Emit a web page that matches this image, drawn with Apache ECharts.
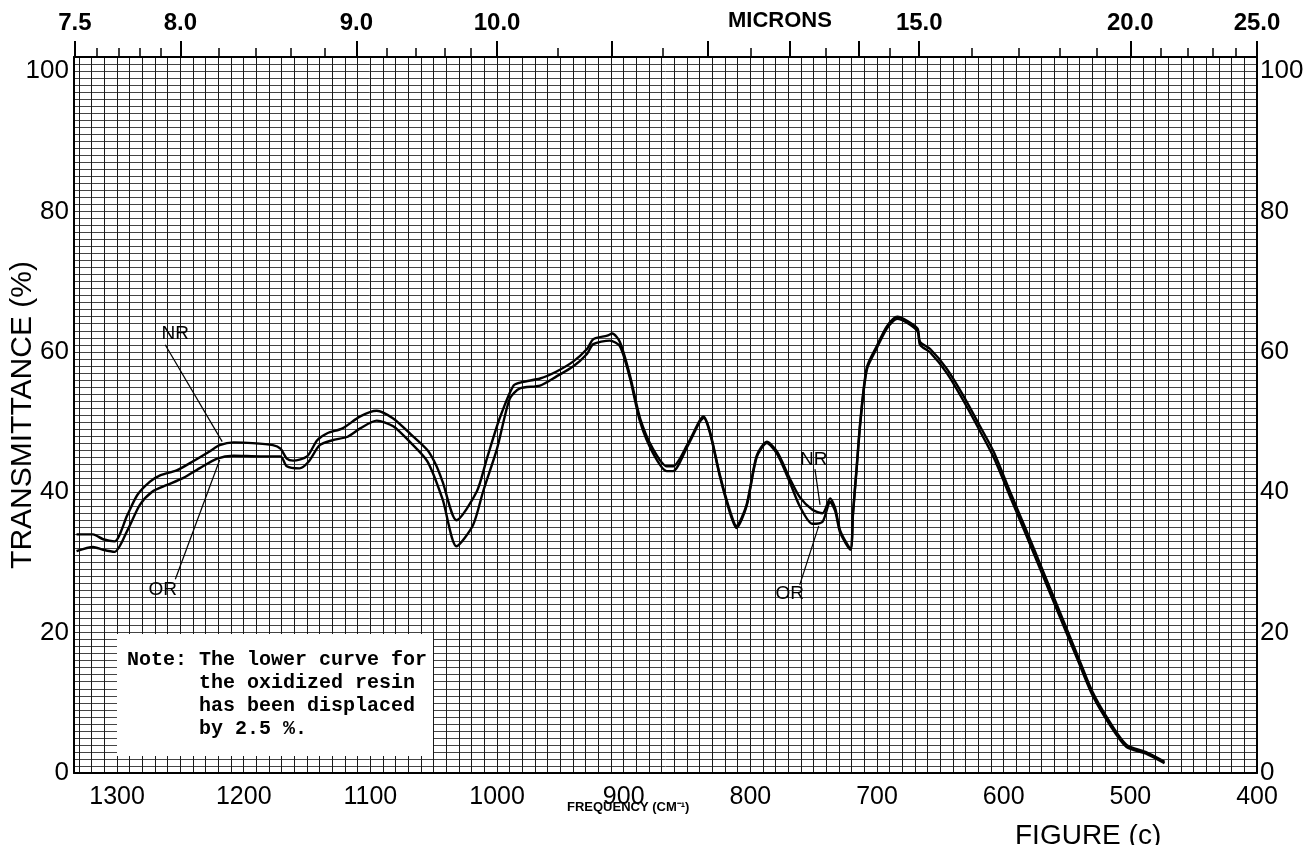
<!DOCTYPE html>
<html>
<head>
<meta charset="utf-8">
<script src="https://cdn.jsdelivr.net/npm/echarts@6.0.0/dist/echarts.min.js"></script>
<style>
  html, body { margin: 0; padding: 0; background: #fff; }
  #spectrum { width: 1309px; height: 845px; }
</style>
</head>
<body>
<div id="spectrum"></div>
<script>
// natural resin (upper curve), wavenumber cm-1 / transmittance %
const nrWave = [1332, 1319, 1311, 1302, 1292, 1284, 1274, 1266, 1253, 1240, 1227, 1219, 1208, 1193, 1177,
  1171, 1166, 1161, 1150, 1142, 1134, 1122, 1108, 1095, 1082, 1069, 1055, 1048, 1043, 1032,
  1016, 1008, 998, 987, 980, 966, 953, 940, 929, 924, 913, 909, 903, 895, 887,
  877, 866, 861, 850, 840, 837, 832, 824, 816, 811, 803, 795, 787, 779, 769,
  761, 751, 743, 737, 733, 729, 721, 719, 716, 713, 708, 700, 692, 684, 676,
  668, 666, 658, 645, 632, 619, 608, 595, 582, 569, 556, 542, 530, 516, 503, 488, 473];
const nrTrans = [34.0, 34.0, 33.3, 33.0, 36.7, 39.6, 41.5, 42.4, 43.1, 44.4, 45.8, 46.7, 47.1, 47.0, 46.7,
  46.2, 44.8, 44.5, 45.1, 47.4, 48.4, 49.1, 50.8, 51.6, 50.5, 48.4, 46.0, 43.8, 41.5, 36.0,
  40.1, 44.8, 50.5, 55.2, 55.7, 56.2, 57.2, 58.6, 60.4, 61.8, 62.3, 62.6, 61.4, 56.6, 50.5,
  46.2, 43.7, 43.7, 46.7, 50.2, 50.8, 48.7, 42.4, 37.3, 35.2, 38.2, 45.2, 47.2, 45.8, 42.0,
  39.3, 37.5, 37.0, 39.1, 37.7, 34.5, 32.0, 37.0, 43.8, 50.5, 57.8, 60.9, 63.7, 65.0, 64.4,
  63.3, 61.4, 60.4, 57.6, 53.8, 49.5, 45.8, 40.1, 34.5, 28.8, 23.1, 16.9, 11.6, 7.2, 4.0, 3.0, 1.6];

// oxidized resin (lower curve, displaced by 2.5 %)
const orWave = [1332, 1319, 1311, 1302, 1292, 1282, 1272, 1261, 1248, 1235, 1221, 1208, 1187, 1171, 1166,
  1156, 1149, 1140, 1130, 1118, 1108, 1095, 1082, 1069, 1055, 1043, 1032, 1019, 1011, 1000,
  990, 982, 966, 953, 940, 929, 924, 911, 903, 895, 887, 877, 866, 861, 850,
  840, 837, 832, 824, 816, 811, 803, 795, 787, 779, 769, 761, 751, 743, 737,
  733, 729, 721, 719, 716, 713, 708, 700, 692, 684, 676, 668, 666, 658, 645,
  632, 619, 608, 595, 582, 569, 556, 542, 530, 516, 503, 488, 473];
const orTrans = [31.6, 32.2, 31.8, 31.5, 34.5, 38.2, 40.1, 41.0, 42.0, 43.4, 44.8, 45.2, 45.1, 45.1, 43.7,
  43.4, 44.3, 46.7, 47.4, 47.9, 49.1, 50.2, 49.4, 47.2, 44.4, 39.0, 32.3, 35.3, 40.1, 46.2,
  53.3, 54.8, 55.2, 56.5, 57.9, 59.7, 61.1, 61.6, 60.8, 56.2, 50.0, 45.6, 43.0, 43.0, 46.4,
  50.0, 50.6, 48.5, 42.2, 37.0, 34.9, 38.0, 45.0, 47.0, 45.5, 41.5, 38.0, 35.5, 35.8, 38.6,
  37.3, 34.2, 31.8, 36.8, 43.5, 50.2, 57.5, 60.6, 63.4, 64.7, 64.1, 62.9, 61.0, 59.9, 57.0,
  53.1, 48.8, 45.0, 39.4, 33.8, 28.1, 22.4, 16.3, 11.1, 6.8, 3.7, 2.8, 1.4];

// axis labels
const freqLabels = [1300, 1200, 1100, 1000, 900, 800, 700, 600, 500, 400];
const transLabels = [0, 20, 40, 60, 80, 100];
const micronLabels = [7.5, 8.0, 9.0, 10.0, 15.0, 20.0, 25.0];
const micronMajorTicks = [7.5, 8, 9, 10, 11, 12, 13, 14, 15, 20, 25];
const micronMinorTicks = [7.6, 7.7, 7.8, 7.9, 8.2, 8.4, 8.6, 8.8, 9.2, 9.4, 9.6, 9.8, 10.5, 11.5,
  12.5, 13.5, 14.5, 16, 17, 18, 19, 21, 22, 23, 24];

const toWave = m => 1e4 / m;
const pairs = (xs, ys) => xs.map((x, i) => [x, ys[i]]);

const chart = echarts.init(document.getElementById('spectrum'));
const FONT = 'Liberation Sans';

const topAxisBase = {
  type: 'value', position: 'top', min: 400, max: 1334, inverse: true,
  splitLine: { show: false }
};

const option = {
  animation: false,
  backgroundColor: '#fff',
  grid: { left: 74, right: 52, top: 57, bottom: 72, outerBoundsMode: 'none', containLabel: false },
  xAxis: [
    {
      type: 'value', position: 'bottom', min: 400, max: 1334, interval: 10, inverse: true,
      axisLine: { show: true, onZero: false, lineStyle: { color: '#000', width: 2 } },
      axisTick: { show: false },
      axisLabel: {
        formatter: v => freqLabels.includes(v) ? String(v) : '',
        fontSize: 25, color: '#000', margin: 12, fontFamily: FONT
      },
      splitLine: { show: true, lineStyle: { color: '#1a1a1a', width: 1 } }
    },
    Object.assign({}, topAxisBase, {
      axisLine: { show: true, onZero: false, lineStyle: { color: '#000', width: 2 } },
      axisTick: { show: true, inside: false, length: 16, customValues: micronMajorTicks.map(toWave),
        lineStyle: { color: '#000', width: 2 } },
      axisLabel: {
        customValues: micronLabels.map(toWave),
        formatter: v => (1e4 / v).toFixed(1),
        fontSize: 24, fontWeight: 'bold', color: '#000', margin: 22, fontFamily: FONT
      }
    }),
    Object.assign({}, topAxisBase, {
      axisLine: { show: false, onZero: false },
      axisTick: { show: true, inside: false, length: 9, customValues: micronMinorTicks.map(toWave),
        lineStyle: { color: '#000', width: 1.5 } },
      axisLabel: { show: false }
    })
  ],
  yAxis: [
    {
      type: 'value', position: 'left', min: 0, max: 102, interval: 1,
      name: 'TRANSMITTANCE (%)', nameLocation: 'middle', nameGap: 36, nameMoveOverlap: false,
      nameTextStyle: { fontSize: 30, color: '#000', fontFamily: FONT },
      axisLine: { show: true, onZero: false, lineStyle: { color: '#000', width: 2 } },
      axisTick: { show: false },
      axisLabel: {
        formatter: v => transLabels.includes(v) ? String(v) : '',
        fontSize: 26, color: '#000', margin: 5, fontFamily: FONT
      },
      splitLine: { show: true, lineStyle: { color: '#444', width: 1 } }
    },
    {
      type: 'value', position: 'right', min: 0, max: 102, interval: 1,
      axisLine: { show: true, onZero: false, lineStyle: { color: '#000', width: 2 } },
      axisTick: { show: false },
      axisLabel: {
        formatter: v => transLabels.includes(v) ? String(v) : '',
        fontSize: 26, color: '#000', margin: 3, fontFamily: FONT
      },
      splitLine: { show: false }
    }
  ],
  series: [
    {
      name: 'NR', type: 'line', xAxisIndex: 0, yAxisIndex: 0,
      data: pairs(nrWave, nrTrans), showSymbol: false, smooth: 0.25,
      lineStyle: { color: '#000', width: 2.4 }, z: 5,
      markLine: {
        silent: true, symbol: ['none', 'none'], label: { show: false },
        lineStyle: { color: '#000', width: 1.2, type: 'solid' },
        data: [
          [{ coord: [1262, 61] }, { coord: [1217, 47.2] }],
          [{ coord: [749, 43.3] }, { coord: [745, 38.2] }]
        ]
      },
      markPoint: {
        symbol: 'circle', symbolSize: 0, silent: true,
        label: { show: true, formatter: '{b}', color: '#000', fontSize: 19, fontFamily: FONT },
        data: [
          { name: 'NR', coord: [1254, 62.6] },
          { name: 'NR', coord: [750, 44.6] }
        ]
      }
    },
    {
      name: 'OR', type: 'line', xAxisIndex: 0, yAxisIndex: 0,
      data: pairs(orWave, orTrans), showSymbol: false, smooth: 0.25,
      lineStyle: { color: '#000', width: 2.4 }, z: 5,
      markLine: {
        silent: true, symbol: ['none', 'none'], label: { show: false },
        lineStyle: { color: '#000', width: 1.2, type: 'solid' },
        data: [
          [{ coord: [1254, 27.6] }, { coord: [1219, 44.6] }],
          [{ coord: [761, 26.8] }, { coord: [746, 35.2] }]
        ]
      },
      markPoint: {
        symbol: 'circle', symbolSize: 0, silent: true,
        label: { show: true, formatter: '{b}', color: '#000', fontSize: 19, fontFamily: FONT },
        data: [
          { name: 'OR', coord: [1264, 26.1] },
          { name: 'OR', coord: [769, 25.6] }
        ]
      }
    }
  ],
  graphic: [
    { type: 'text', left: 728, top: 10, z: 100,
      style: { text: 'MICRONS', font: 'bold 22px "Liberation Sans"', fill: '#000' } },
    { type: 'text', left: 567, top: 801, z: 100,
      style: { text: 'FREQUENCY (CM⁻¹)', font: 'bold 13px "Liberation Sans"', fill: '#000' } },
    { type: 'text', left: 1015, top: 822, z: 100,
      style: { text: 'FIGURE (c)', font: '28px "Liberation Sans"', fill: '#000' } },
    { type: 'rect', z: 100, shape: { x: 117, y: 634, width: 316, height: 122 },
      style: { fill: '#fff', stroke: null } },
    { type: 'text', left: 127, top: 648, z: 101,
      style: {
        text: 'Note: The lower curve for\n      the oxidized resin\n      has been displaced\n      by 2.5 %.',
        font: 'bold 20px "Liberation Mono"', lineHeight: 23, fill: '#000'
      } }
  ]
};

chart.setOption(option);
</script>
</body>
</html>
